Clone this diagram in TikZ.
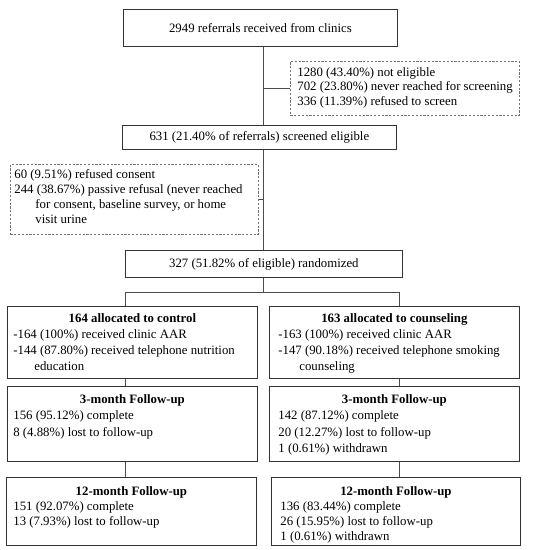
\documentclass[tikz,border=0pt]{standalone}
\usepackage{fontspec}
\setmainfont{Liberation Serif}
% width, height, top pad, left pad, baselineskip, content
\newcommand{\bxc}[6]{\parbox[c][#2][t]{#1}{\vspace*{#3}\fontsize{12.8}{#5}\selectfont\raggedright\leftskip=#4\relax #6}}
\newcommand{\ttl}[1]{{\centering\bfseries #1\par}}
\newcommand{\hln}[1]{\hspace*{21pt}#1\par}
\begin{document}
\begin{tikzpicture}[x=1pt,y=-1pt,
  font=\fontsize{12.8}{15}\selectfont,
  box/.style={draw=black!80, line width=0.8pt, inner sep=0pt, anchor=north west},
  dbox/.style={draw=black!55, line width=0.8pt, dash pattern=on 2.2pt off 1.6pt, inner sep=0pt, anchor=north west},
  conn/.style={draw=black!70, line width=0.7pt}]
\useasboundingbox (0,0) rectangle (539,550);

\coordinate (sx) at (263,0);
\coordinate (lx) at (125,0);
\coordinate (rx) at (399,0);
\coordinate (bar) at (0,292);

\node[box, minimum width=274pt, minimum height=37pt] (ref) at (123,9) {2949 referrals received from clinics};

\node[dbox] (excl1) at (290,61) {\bxc{229pt}{54pt}{6pt}{7pt}{14.5pt}{%
1280 (43.40\%) not eligible\par
702 (23.80\%) never reached for screening\par
336 (11.39\%) refused to screen\par}};

\node[box, minimum width=274pt, minimum height=24pt] (elig) at (122,125) {631 (21.40\% of referrals) screened eligible};

\node[dbox] (excl2) at (10,164) {\bxc{248pt}{70pt}{5pt}{4pt}{15pt}{%
60 (9.51\%) refused consent\par
244 (38.67\%) passive refusal (never reached\par
\hln{for consent, baseline survey, or home}
\hln{visit urine}}};

\node[box, minimum width=277pt, minimum height=27pt] (rand) at (125,250) {327 (51.82\% of eligible) randomized};

\node[box] (ctrl) at (7,306) {\bxc{250pt}{72pt}{7pt}{6pt}{16pt}{%
\ttl{164 allocated to control}
-164 (100\%) received clinic AAR\par
-144 (87.80\%) received telephone nutrition\par
\hln{education}}};

\node[box] (coun) at (269,306) {\bxc{250pt}{72pt}{7pt}{9pt}{16pt}{%
\ttl{163 allocated to counseling}
-163 (100\%) received clinic AAR\par
-147 (90.18\%) received telephone smoking\par
\hln{counseling}}};

\node[box] (ctrl3) at (7,386) {\bxc{250pt}{75pt}{8pt}{6pt}{16.5pt}{%
\ttl{3-month Follow-up}
156 (95.12\%) complete\par
8 (4.88\%) lost to follow-up\par}};

\node[box] (coun3) at (269,386) {\bxc{250pt}{75pt}{8pt}{9pt}{16.5pt}{%
\ttl{3-month Follow-up}
142 (87.12\%) complete\par
20 (12.27\%) lost to follow-up\par
1 (0.61\%) withdrawn\par}};

\node[box] (ctrl12) at (6,477) {\bxc{250pt}{68pt}{9pt}{7pt}{15pt}{%
\ttl{12-month Follow-up}
151 (92.07\%) complete\par
13 (7.93\%) lost to follow-up\par}};

\node[box] (coun12) at (271,477) {\bxc{249pt}{68pt}{9pt}{9pt}{15pt}{%
\ttl{12-month Follow-up}
136 (83.44\%) complete\par
26 (15.95\%) lost to follow-up\par
1 (0.61\%) withdrawn\par}};

\draw[conn] (ref.south -| sx) -- (elig.north -| sx);
\draw[conn] (sx |- excl1.west) -- (excl1.west);
\draw[conn] (elig.south -| sx) -- (rand.north -| sx);
\draw[conn] (excl2.east) -- (sx |- excl2.east);
\draw[conn] (rand.south -| sx) -- (sx |- bar);
\draw[conn] (ctrl.north -| lx) -- (lx |- bar) -- (rx |- bar) -- (coun.north -| rx);
\draw[conn] (ctrl.south -| lx) -- (ctrl3.north -| lx);
\draw[conn] (coun.south -| rx) -- (coun3.north -| rx);
\draw[conn] (ctrl3.south -| lx) -- (ctrl12.north -| lx);
\draw[conn] (coun3.south -| rx) -- (coun12.north -| rx);
\end{tikzpicture}
\end{document}
